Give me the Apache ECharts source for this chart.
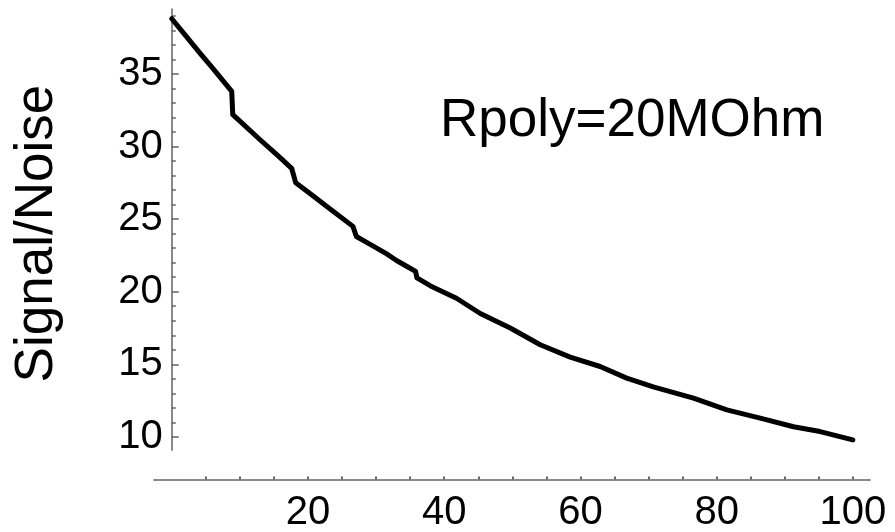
<!DOCTYPE html>
<html>
<head>
<meta charset="utf-8">
<script src="https://cdn.jsdelivr.net/npm/echarts@6/dist/echarts.min.js"></script>
<style>
  html, body { margin: 0; padding: 0; background: #ffffff; }
  #chart { width: 895px; height: 532px; }
</style>
</head>
<body>
<div id="chart"></div>
<script>
// Signal/Noise curve (with small steps near x = 9, 18, 27, 36)
const xValues = [0, 2, 4.1, 6, 8.8, 8.95, 10, 13, 15.5, 17.6, 18.2, 20, 23.2, 26.6, 27.1, 29,
  31.5, 33, 35, 35.8, 36.0, 38, 41.8, 45.3, 49.7, 54.1, 58.5, 62.9, 66.8, 70.7, 76.6, 81.5,
  86.4, 91.3, 95.2, 100];
const signalNoise = [38.8, 37.65, 36.45, 35.4, 33.8, 32.2, 31.75, 30.45, 29.4, 28.5, 27.5, 26.86,
  25.71, 24.5, 23.8, 23.3, 22.62, 22.15, 21.62, 21.4, 20.95, 20.4, 19.55, 18.5, 17.5, 16.35,
  15.5, 14.85, 14.05, 13.45, 12.67, 11.86, 11.3, 10.7, 10.37, 9.8];

// Axis ticks and labels
const xTickValues = [5, 10, 15, 20, 25, 30, 35, 40, 45, 50, 55, 60, 65, 70, 75, 80, 85, 90, 95, 100];
const xLabelValues = [20, 40, 60, 80, 100];
const yMinorTicks = [10, 11, 12, 13, 14, 15, 16, 17, 18, 19, 20, 21, 22, 23, 24, 25, 26, 27, 28,
  29, 30, 31, 32, 33, 34, 35, 36, 37, 38, 39];
const yMajorTicks = [10, 15, 20, 25, 30, 35];

const yLabelText = 'Signal/Noise';
const noteText = 'Rpoly=20MOhm';

const FONT = "'Liberation Sans', Arial, sans-serif";
const AXIS_GRAY = '#8a8a8a';

const chart = echarts.init(document.getElementById('chart'), null, { renderer: 'canvas' });

chart.setOption({
  backgroundColor: '#ffffff',
  animation: false,
  title: {
    text: noteText,
    left: 435,
    top: 90,
    textStyle: { fontFamily: FONT, fontSize: 53, fontWeight: 'normal', color: '#000' }
  },
  grid: [
    { left: 171.8, width: 681, top: 9.3, height: 440.7, outerBoundsMode: 'none', containLabel: false },
    { left: 154, width: 716, top: 477, height: 2.5, outerBoundsMode: 'none', containLabel: false }
  ],
  xAxis: [
    { gridIndex: 0, type: 'value', min: 0, max: 100, show: false },
    {
      gridIndex: 1, type: 'value', min: -2.6, max: 102.5,
      axisLine: { show: true, onZero: false, lineStyle: { color: AXIS_GRAY, width: 2 } },
      axisTick: { show: true, inside: true, length: 3, customValues: xTickValues,
        lineStyle: { color: '#666', width: 2 } },
      axisLabel: { show: true, customValues: xLabelValues, margin: 13,
        fontFamily: FONT, fontSize: 40, color: '#000' },
      splitLine: { show: false }
    }
  ],
  yAxis: [
    {
      gridIndex: 0, type: 'value', min: 9.1, max: 39.45, position: 'left',
      axisLine: { show: true, onZero: false, lineStyle: { color: AXIS_GRAY, width: 2 } },
      axisTick: { show: true, inside: true, length: 4, customValues: yMinorTicks,
        lineStyle: { color: '#666', width: 1.5 } },
      axisLabel: { show: false },
      splitLine: { show: false }
    },
    {
      gridIndex: 0, type: 'value', min: 9.1, max: 39.45, position: 'left',
      axisLine: { show: false, onZero: false },
      axisTick: { show: true, inside: true, length: 7, customValues: yMajorTicks,
        lineStyle: { color: '#666', width: 1.5 } },
      axisLabel: { show: true, customValues: yMajorTicks, margin: 9,
        fontFamily: FONT, fontSize: 40, color: '#000' },
      splitLine: { show: false },
      name: yLabelText,
      nameLocation: 'middle',
      nameRotate: 90,
      nameGap: 108,
      nameTextStyle: { fontFamily: FONT, fontSize: 53, color: '#000', padding: [0, 8, 0, 0] }
    },
    { gridIndex: 1, type: 'value', min: 0, max: 1, show: false }
  ],
  series: [
    {
      type: 'line',
      xAxisIndex: 0,
      yAxisIndex: 0,
      data: xValues.map((x, i) => [x, signalNoise[i]]),
      showSymbol: false,
      clip: false,
      lineStyle: { color: '#000', width: 5, join: 'round', cap: 'round' }
    }
  ]
});
</script>
</body>
</html>
